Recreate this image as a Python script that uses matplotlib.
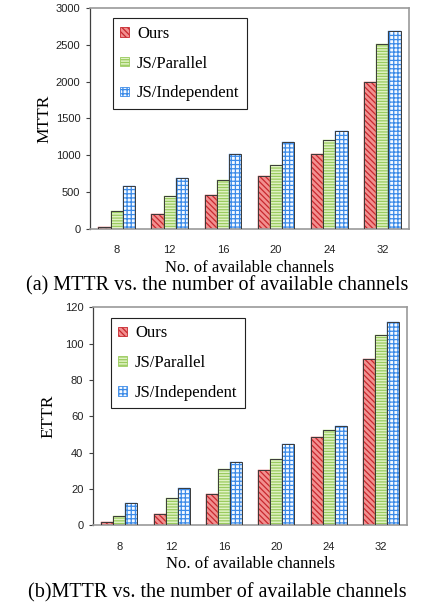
import matplotlib
matplotlib.use('Agg')
import matplotlib.pyplot as plt
import numpy as np

channels = ['8', '12', '16', '20', '24', '32']
series_names = ['Ours', 'JS/Parallel', 'JS/Independent']

mttr_ours = [20, 195, 460, 710, 1020, 2000]
mttr_parallel = [245, 440, 660, 860, 1200, 2510]
mttr_indep = [580, 685, 1020, 1180, 1330, 2690]

ettr_ours = [2, 6.3, 17, 30.5, 48.5, 91.5]
ettr_parallel = [5, 15, 31, 36.5, 52.5, 105]
ettr_indep = [12, 20.5, 35, 44.5, 54.5, 112]

#face colour, hatch colour, hatch pattern
styles = [('#f29090', '#c8282e', '\\\\\\\\\\\\'),
          ('#e0f2c4', '#9acb5e', '------'),
          ('#f6faff', '#3a8ae8', '++++')]

serif = ['Liberation Serif', 'DejaVu Serif']
sans = ['Liberation Sans', 'DejaVu Sans']
plt.rcParams['hatch.linewidth'] = 0.9


def draw_panel(ax, values, ylabel, ymax, ystep, ylabpad, legx):
    x = np.arange(len(channels))
    w = 0.23
    for k, vals in enumerate(values):
        face, hcol, hatch = styles[k]
        ax.bar(x + (k - 1) * w, vals, w, facecolor=face, hatch=hatch,
               edgecolor=hcol, linewidth=0.3, label=series_names[k], zorder=2)
        #dark outline drawn on top of the hatch
        ax.bar(x + (k - 1) * w, vals, w, fill=False, edgecolor='#3a3a3a',
               linewidth=0.7, zorder=3)
    ax.set_xlim(-0.5, len(channels) - 0.5)
    ax.set_ylim(0, ymax)
    ax.set_yticks(np.arange(0, ymax + 1, ystep))
    ax.set_xticks(x)
    ax.set_xticklabels(channels, family=sans, fontsize=8, color='#222222')
    for lab in ax.get_yticklabels():
        lab.set_family(sans)
        lab.set_fontsize(8)
        lab.set_color('#222222')
    ax.tick_params(axis='x', length=0, pad=12)
    ax.tick_params(axis='y', length=3, width=0.8, color='#404040', pad=4)
    for s in ax.spines.values():
        s.set_color('#9a9a9a')
        s.set_linewidth(1.2)
    ax.spines['left'].set_color('#404040')
    ax.spines['left'].set_linewidth(0.9)
    ax.set_xlabel('No. of available channels', family=serif, fontsize=12, labelpad=3)
    ax.set_ylabel(ylabel, family=serif, fontsize=12.5, labelpad=ylabpad)
    leg = ax.legend(loc='upper left', bbox_to_anchor=(legx, 0.99), prop={'family': serif, 'size': 12},
                    handlelength=0.5, handleheight=0.5, handletextpad=0.5,
                    labelspacing=0.82, borderpad=0.45, fancybox=False, framealpha=1)
    leg.get_frame().set_edgecolor('#222222')
    leg.get_frame().set_linewidth(0.8)
    for p, st in zip(leg.get_patches(), styles):
        p.set_edgecolor(st[1])
        p.set_linewidth(0.6)


fig = plt.figure(figsize=(4.35, 6.10), dpi=100)
ax1 = fig.add_axes([0.207, 0.625, 0.733, 0.362])
ax2 = fig.add_axes([0.214, 0.139, 0.722, 0.357])

draw_panel(ax1, [mttr_ours, mttr_parallel, mttr_indep], 'MTTR', 3000, 500, 2, 0.045)
draw_panel(ax2, [ettr_ours, ettr_parallel, ettr_indep], 'ETTR', 120, 20, 6, 0.03)

fig.text(0.5, 0.532, '(a) MTTR vs. the number of available channels', ha='center', va='center',
         family=serif, fontsize=14.5)
fig.text(0.5, 0.028, '(b)MTTR vs. the number of available channels', ha='center', va='center',
         family=serif, fontsize=14.5)

fig.savefig('out.png', dpi=100)
plt.close()
